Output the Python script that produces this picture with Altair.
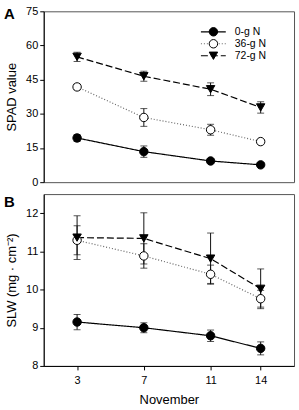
import altair as alt
import pandas as pd

days = [3, 7, 11, 14]
series = ["0-g N", "36-g N", "72-g N"]

# SPAD readings (mean, standard error) per treatment
spad_0 = [19.4, 13.4, 9.3, 7.6]
spad_0_err = [1.5, 2.5, 0.8, 0.7]
spad_36 = [41.8, 28.4, 23.0, 17.8]
spad_36_err = [1.2, 3.9, 2.4, 1.0]
spad_72 = [55.0, 46.5, 40.8, 32.8]
spad_72_err = [2.0, 2.2, 2.8, 2.5]

# Specific leaf weight (mg/cm2)
slw_0 = [9.15, 9.00, 8.79, 8.46]
slw_0_err = [0.20, 0.13, 0.15, 0.17]
slw_36 = [11.29, 10.88, 10.40, 9.76]
slw_36_err = [0.38, 0.32, 0.24, 0.22]
slw_72 = [11.36, 11.34, 10.81, 10.02]
slw_72_err = [0.57, 0.67, 0.67, 0.52]

# legend rows placed in panel A data space
legend_y = [66.0, 60.75, 55.5]
legend_x = [10.42, 11.91]
legend_mark_x = 11.17
legend_text_x = 12.45

FONT = "Liberation Sans"
dash_scale = alt.Scale(domain=series, range=[[1, 0], [1, 2], [7, 3]])
line_color = alt.Scale(domain=series, range=["#000000", "#666666", "#000000"])
shape_scale = alt.Scale(domain=series, range=["circle", "circle", "triangle-down"])
fill_scale = alt.Scale(domain=series, range=["#000000", "#ffffff", "#000000"])
size_scale = alt.Scale(domain=series, range=[72, 72, 85])


def make_frame(means, errs):
    rows = []
    for s, m, e in zip(series, means, errs):
        for d, v, err in zip(days, m, e):
            rows.append({"day": d, "series": s, "val": v, "lo": v - err, "hi": v + err})
    return pd.DataFrame(rows)


def panel(df, ydomain, yticks, ytitle, letter, letter_y, bottom_axis, height, extra=None):
    if bottom_axis:
        xaxis = alt.Axis(values=days, title="November", grid=False, labelFontSize=11,
                         titleFontSize=13, titleFont=FONT, labelFont=FONT,
                         titleFontWeight="normal", tickSize=4, labelPadding=5,
                         titlePadding=8, domainColor="#000", tickColor="#000",
                         labelColor="#000", titleColor="#000")
    else:
        xaxis = None
    xs = alt.Scale(domain=[1, 16], nice=False, zero=False)
    ys = alt.Scale(domain=ydomain, nice=False, zero=False)
    yaxis = alt.Axis(values=yticks, title=ytitle, grid=False, labelFontSize=11,
                     titleFontSize=13, titleFont=FONT, labelFont=FONT,
                     titleFontWeight="normal", tickSize=4, labelPadding=2,
                     titlePadding=7, domainColor="#000", tickColor="#000",
                     labelColor="#000", titleColor="#000", labelOverlap=False)
    x = alt.X("day:Q", scale=xs, axis=xaxis)
    base = alt.Chart(df)
    lines = base.mark_line(strokeWidth=1.2).encode(
        x=x, y=alt.Y("val:Q", scale=ys, axis=yaxis),
        strokeDash=alt.StrokeDash("series:N", scale=dash_scale, legend=None),
        color=alt.Color("series:N", scale=line_color, legend=None),
        detail="series:N",
    )
    bars = base.mark_rule(strokeWidth=1, color="#111").encode(
        x=x, y=alt.Y("lo:Q", scale=ys, axis=yaxis), y2="hi:Q"
    )
    cap_lo = base.mark_tick(orient="horizontal", size=7, thickness=1, color="#111").encode(
        x=x, y=alt.Y("lo:Q", scale=ys, axis=yaxis)
    )
    cap_hi = base.mark_tick(orient="horizontal", size=7, thickness=1, color="#111").encode(
        x=x, y=alt.Y("hi:Q", scale=ys, axis=yaxis)
    )
    pts = base.mark_point(filled=True, stroke="#000", strokeWidth=1, opacity=1).encode(
        x=x, y=alt.Y("val:Q", scale=ys, axis=yaxis),
        shape=alt.Shape("series:N", scale=shape_scale, legend=None),
        fill=alt.Fill("series:N", scale=fill_scale, legend=None),
        size=alt.Size("series:N", scale=size_scale, legend=None),
    )
    tag = alt.Chart(pd.DataFrame({"t": [letter]})).mark_text(
        text=letter, font=FONT, fontSize=15, fontWeight="bold", align="left",
        baseline="alphabetic", color="#000"
    ).encode(x=alt.value(-40), y=alt.value(letter_y))
    layers = [lines, bars, cap_lo, cap_hi, pts]
    if extra is not None:
        layers += [c(xs, ys, yaxis) for c in extra]
    layers.append(tag)
    return alt.layer(*layers).properties(width=252, height=height)


spad = make_frame([spad_0, spad_36, spad_72], [spad_0_err, spad_36_err, spad_72_err])
slw = make_frame([slw_0, slw_36, slw_72], [slw_0_err, slw_36_err, slw_72_err])

leg = pd.DataFrame({
    "series": series,
    "x1": [legend_x[0]] * 3,
    "x2": [legend_x[1]] * 3,
    "xm": [legend_mark_x] * 3,
    "xt": [legend_text_x] * 3,
    "y": legend_y,
})


def leg_lines(xs, ys, yaxis):
    return alt.Chart(leg).mark_rule(strokeWidth=1.2).encode(
        x=alt.X("x1:Q", scale=xs, axis=None), x2="x2:Q",
        y=alt.Y("y:Q", scale=ys, axis=yaxis),
        strokeDash=alt.StrokeDash("series:N", scale=dash_scale, legend=None),
        color=alt.Color("series:N", scale=line_color, legend=None),
    )


def leg_pts(xs, ys, yaxis):
    return alt.Chart(leg).mark_point(filled=True, stroke="#000", strokeWidth=1, opacity=1).encode(
        x=alt.X("xm:Q", scale=xs, axis=None), y=alt.Y("y:Q", scale=ys, axis=yaxis),
        shape=alt.Shape("series:N", scale=shape_scale, legend=None),
        fill=alt.Fill("series:N", scale=fill_scale, legend=None),
        size=alt.Size("series:N", scale=size_scale, legend=None),
    )


def leg_text(xs, ys, yaxis):
    return alt.Chart(leg).mark_text(align="left", baseline="middle", font=FONT,
                                    fontSize=10.5, color="#000").encode(
        x=alt.X("xt:Q", scale=xs, axis=None), y=alt.Y("y:Q", scale=ys, axis=yaxis),
        text="series:N",
    )


top = panel(spad, [0, 75], [0, 15, 30, 45, 60, 75], "SPAD value", "A", 8, False, 172,
            extra=[leg_lines, leg_pts, leg_text])
bottom = panel(slw, [8, 12.5], [8, 9, 10, 11, 12], "SLW (mg · cm⁻²)", "B", 13, True, 173)

chart = alt.vconcat(top, bottom, spacing=12, bounds="flush").resolve_scale(
    x="independent", y="independent"
).properties(
    padding={"left": 3, "top": 3, "right": 4, "bottom": 4},
    background="white",
).configure_view(stroke="#555", strokeWidth=1)

chart.save("out.html", embed_options={"renderer": "svg", "actions": False})
